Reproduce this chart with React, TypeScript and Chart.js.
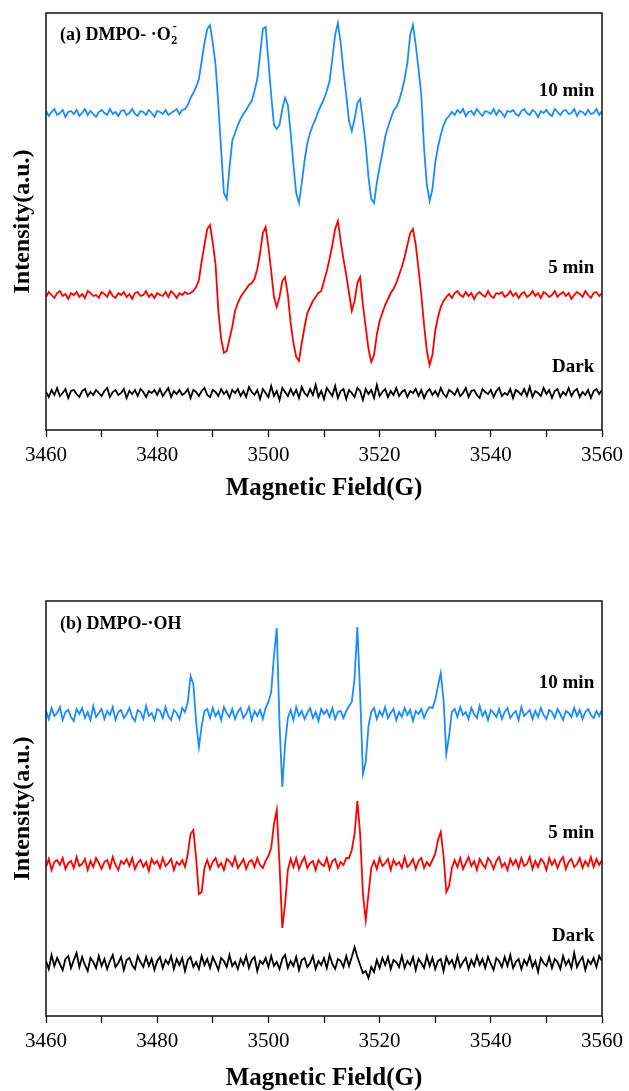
import React, { useEffect, useRef } from 'react';
import { Chart, registerables } from 'chart.js';

Chart.register(...registerables);

// ---- data -------------------------------------------------------------
const FIELD_MIN = 3460;
const FIELD_MAX = 3560;
const FIELD_STEP = 0.5; // spectra sampled every 0.5 G (201 points)
const xTickLabels = ['3460', '3480', '3500', '3520', '3540', '3560'];

// (a) DMPO-·O2-  (intensities relative to each trace's own baseline, a.u.)
const o2Min10 = [
  2, -3, 1, 4, -2, 0, 3, -4, 1, 2, -1, 3, -3, 0, 4, -2, 2, -1, -4, 1,
  3, 0, -2, 4, -1, 1, -3, 2, 3, -2, 0, 4, -1, -3, 2, 1, -2, 3, 0, -4,
  2, 1, -1, 3, -2, 0, 2, 4, -1, 3,
  4, 8, 15, 20, 26, 34, 52, 70, 84, 88,
  70, 48, 8, -37, -80, -86, -55, -28, -20, -12,
  -6, -1, 3, 8, 12, 22, 34, 58, 84, 86,
  52, 18, -12, -16, -12, 4, 15, 8, -20, -52,
  -80, -90, -70, -48, -30, -20, -12, -6, 2, 8,
  14, 22, 32, 54, 78, 90, 70, 42, 18, -8,
  -18, -6, 10, 14, -8, -32, -64, -86, -90, -70,
  -54, -40, -24, -14, -6, 2, 6, 12, 22, 34,
  50, 78, 88, 68, 44, 18, -36, -72, -88, -76,
  -50, -34, -22, -12, -6, -3, 1,
  -2, 3, 0, 4, -3, 1, 2, -2, 4, 0, -3, 2, 1, -1, 4, -2, 3, 0, -4, 2,
  1, 3, -1, -3, 2, 4, 0, -2, 3, 1, -4, 2, 0, 3, -1, -3, 4, 1, -2, 2,
  3, -1, 0, 4, -3, 2, 1, -2, 3, -1, 0, 4, -2, 2,
];
const o2Min5 = [
  -2, 3, 0, -3, 2, 4, -1, 1, -4, 2, 0, 3, -2, 1, -3, 4, 2, -1, 0, -3,
  3, 1, -2, 4, -1, -3, 2, 0, 3, -2, 1, -4, 2, 3, -1, 0, 4, -2, 1, -3,
  2, 0, -1, 3, -2, 4, 1, -3, 2, 0, 3, 1,
  2, 4, 8, 15, 34, 50, 66, 70,
  52, 30, -16, -44, -58, -56, -44, -32, -16, -8,
  -2, 2, 6, 10, 12, 16, 26, 42, 62, 68,
  48, 24, -2, -12, -2, 14, 18, 0, -28, -48,
  -62, -66, -48, -32, -18, -12, -6, -2, 2, 4,
  14, 24, 36, 50, 66, 74, 54, 36, 20, 2,
  -16, -6, 12, 18, -10, -32, -54, -67, -60, -40,
  -26, -18, -10, -4, 2, 6, 12, 20, 28, 38,
  50, 62, 66, 50, 26, 0, -30, -56, -70, -60,
  -36, -22, -12, -6, -2,
  1, -3, 2, 4, 0, -2, 3, -1, 2, -4, 1, 3, 0, -2, 4, -1, -3, 2, 1, 3,
  -2, 0, 4, -1, 2, -3, 1, 3, -2, 0, 4, -1, 2, -3, 3, 1, -2, 0, 4, -2,
  1, 3, -1, 2, -4, 0, 3, 1, -2, 4, 0, -3, 2, 3, -1, 2,
];
const o2Dark = [
  1, -4, 3, -2, 5, -3, 0, 4, -5, 2, 3, -1, -4, 2, 4, -3, 1, -2, 3, 0,
  -3, 2, 5, -4, 1, 3, -2, 0, 4, -5, 2, -1, 3, -3, 4, 1, -4, 2, 0, 3,
  -2, 4, -3, 1, 5, -4, 2, -1, 3, -2, 0, 4, -5, 3, 1, -3, 2, 5, -2, -4,
  3, 1, -3, 4, -1, 2, -5, 3, 0, 4, -3, 2, -4, 6, 1, -2, 3, -6, 4, 0,
  -4, 7, -3, 2, -7, 5, 1, -3, 4, -2, 3, -5, 6, 0, -3, 4, -2, 8, -4, 2,
  -6, 5, 1, -3, 7, -5, 2, 4, -6, 3, 0, -4, 5, 2, -7, 4, -1, 3, -5, 8,
  -3, 1, 4, -4, 2, -2, 5, -3, 1, 3, -4, 2, 0, 4, -3, 3, -5, 1, 4, -2,
  2, -3, 5, -1, -4, 3, 1, -2, 4, -3, 0, 5, -4, 2, 3, -2, -5, 4, 1, -1,
  3, -4, 2, 5, -3, 0, -2, 4, -5, 3, 1, -2, 4, -3, 6, -4, 2, 0, -3, 5,
  -1, 3, -5, 2, 4, -4, 1, -2, 5, -3, 2, 4, -4, 1, -2, 3, -5, 2, 4, -1,
  3,
];

// (b) DMPO-·OH
const ohMin10 = [
  3, -5, 6, -2, 1, 7, -6, 2, 4, -3, -7, 5, 0, 6, -4, 2, -6, 8, -3, 1,
  5, -5, 3, -1, 7, -6, 2, 4, -4, 0, 6, -3, -7, 4, 2, -5, 8, -2, 1, -6,
  5, 3, -4, 7, -2, -6, 4, 1, -5, 6, 2,
  12, 38, 30, -8, -33, -12, 3,
  5, -4, 6, -2, 3, -6, 7, 1, -3, 5, -5, 2, 6, -4, 0, 7, -6, 3, -2, 4, -5,
  6, 12, 22, 58, 86, -10, -73, -30, -4,
  4, -6, 7, -2, 3, -5, 1, 6, -4, 2, -7, 5, 0, 4, -3, 6, -5, 2, 3, -4,
  3, 8, 12, 36, 87, 20, -60, -48, -12, 2,
  6, -5, 3, -2, 7, -4, 1, 5, -6, 2, -3, 6, -1, 4, -7, 3, 0, 5, -4,
  3, 7, 6, 14, 28, 41, 14, -40, -22, 2,
  5, -3, 7, -1, 2, -5, 6, 0, -4, 8, -2, 3, -6, 4, 1, -3, 5, -5, 2, 6,
  -4, 0, 3, -6, 7, -2, 1, 4, -5, 3, -3, 6, -1, -5, 4, 2, -4, 5, 0, -6,
  3, 1, -3, 6, -2, 4, -5, 2, 5, -1, -4, 3, -2, 4,
];
const ohMin5 = [
  -3, 5, -6, 2, 4, -1, 6, -5, 1, 3, -4, 7, -2, 0, 5, -6, 3, -3, 6, 1,
  -5, 2, 4, -4, 7, -1, -6, 3, 0, 5, -2, 6, -5, 1, 4, -3, 2, -7, 5, 0,
  3, -4, 6, -2, 1, 5, -6, 2, -1, 4, -3,
  10, 30, 34, 6, -30, -28, -4,
  4, -5, 2, 6, -3, 1, -6, 5, 3, -2, 7, -4, 0, 5, -5, 2, 4, -3, 6, -1, -4, 3,
  8, 16, 40, 54, 0, -64, -40, -6,
  5, -3, 6, -5, 2, 7, -4, 1, 3, -6, 4, 0, -2, 6, -5, 3, 5, -4, 2, -1, 6,
  6, 14, 30, 63, 30, -30, -56, -30, -4,
  3, -5, 6, -2, 1, 5, -6, 4, -1, 2, -4, 7, -3, 0, 5, -5, 3, 6, -4, 2, -2, 4,
  10, 24, 32, 8, -28, -22, -4,
  4, -3, 6, -5, 1, 7, -2, 3, -6, 5, 0, -4, 6, 2, -5, 3, 7, -3, 1, -6,
  5, -1, 4, -4, 6, -2, 0, 7, -5, 3, -3, 5, 2, -6, 6, -1, 4, -4, 3, 7,
  -5, 2, 5, -3, 0, 6, -4, 3, -2, 7, -3, 5, -1, 4,
];
const ohDark = [
  2, -6, 8, -3, 5, -1, -7, 4, 7, -5, 3, 10, -4, 6, -2, -8, 5, 1, -5, 7,
  -3, 4, -6, 2, 8, -4, 0, 6, -7, 3, 5, -2, -6, 7, 1, -4, 6, -3, 4, -7,
  2, 6, -5, 3, -1, 7, -6, 4, -2, 5, -8, 3, 6, -4, 1, -6, 7, -2, 4, -5,
  6, 0, -7, 5, 2, -4, 8, -3, 1, -6, 4, -2, 7, -5, 3, 6, -8, 2, -1, 5,
  -4, 7, -3, 1, -6, 4, 8, -5, 2, -3, 6, -7, 3, 5, -4, 0, 7, -6, 2, -2,
  5, -5, 8, -1, -6, 4, 2, -4, 7, -3, 6, 16, 6, -2, -10, -8, -15, -4, -9, 3,
  -5, 5, -2, 6, -6, 3, 1, -4, 7, -5, 2, -2, 6, -7, 4, 0, -5, 7, -3, 5,
  -6, 2, 4, -8, 6, -1, 3, -5, 7, -4, 1, 5, -6, 3, -3, 7, -2, 4, -5, 6,
  -1, -7, 5, 2, -4, 6, -3, 8, -5, 1, 4, -6, 3, -2, 7, -4, 2, -9, 5, 0,
  -3, 6, -5, 4, 1, -6, 7, -2, 3, -5, 10, -4, 2, 6, -7, 3, -1, 5, -4, 7,
  2,
];

const seriesNames = ['10 min', '5 min', 'Dark'];

// ---- styling / layout --------------------------------------------------
const FONT = '"Liberation Serif", "Times New Roman", serif';
const COLORS = ['#1a8cff', '#ff0000', '#000000'];

type Panel = {
  tag: string;
  series: number[][];
  offsets: number[];
  labelY: number[];
  titleY: number;
  yMax: number;
  padTop: number;
  xAxisHeight: number;
  xTitlePad: number;
  height: number;
  top: number;
};

const panels: Panel[] = [
  {
    tag: 'a',
    series: [o2Min10, o2Min5, o2Dark],
    offsets: [317, 135, 37],
    labelY: [339, 162, 63],
    titleY: 395,
    yMax: 417,
    padTop: 13,
    xAxisHeight: 115,
    xTitlePad: 44,
    height: 545,
    top: 0,
  },
  {
    tag: 'b',
    series: [ohMin10, ohMin5, ohDark],
    offsets: [302, 152, 53],
    labelY: [333, 183, 80],
    titleY: 392,
    yMax: 415,
    padTop: 56,
    xAxisHeight: 75,
    xTitlePad: 0,
    height: 546,
    top: 545,
  },
];

const framePlugin = {
  id: 'frame',
  afterDatasetsDraw(chart: any) {
    const { ctx, chartArea: a } = chart;
    ctx.save();
    ctx.strokeStyle = '#111';
    ctx.lineWidth = 1.5;
    ctx.strokeRect(a.left, a.top, a.right - a.left, a.bottom - a.top);
    ctx.restore();
  },
};

function makeTextPlugin(panel: Panel) {
  return {
    id: 'texts' + panel.tag,
    afterDatasetsDraw(chart: any) {
      const { ctx } = chart;
      const xs = chart.scales.x;
      const ys = chart.scales.y;
      ctx.save();
      ctx.fillStyle = '#000';
      ctx.textBaseline = 'middle';
      // trace labels
      ctx.font = `bold 19px ${FONT}`;
      ctx.textAlign = 'right';
      seriesNames.forEach((n, i) => {
        ctx.fillText(n, xs.getPixelForValue(3558.6), ys.getPixelForValue(panel.labelY[i]));
      });
      // panel title
      ctx.textAlign = 'left';
      const tx = xs.getPixelForValue(3462.5);
      const ty = ys.getPixelForValue(panel.titleY);
      ctx.font = `bold 18px ${FONT}`;
      if (panel.tag === 'a') {
        const main = '(a) DMPO- \u00b7O';
        ctx.fillText(main, tx, ty);
        const w = ctx.measureText(main).width;
        ctx.font = `bold 12px ${FONT}`;
        ctx.fillText('2', tx + w + 0.5, ty + 6);
        ctx.fillText('-', tx + w + 2, ty - 8);
      } else {
        ctx.fillText('(b) DMPO-\u00b7OH', tx, ty);
      }
      ctx.restore();
    },
  };
}

function PanelChart({ panel }: { panel: Panel }) {
  const ref = useRef<HTMLCanvasElement | null>(null);
  useEffect(() => {
    if (!ref.current) return;
    const datasets = panel.series.map((vals, si) => ({
      label: seriesNames[si],
      data: vals.map((v, i) => ({ x: FIELD_MIN + i * FIELD_STEP, y: v + panel.offsets[si] })),
      borderColor: COLORS[si],
      borderWidth: 1.8,
      pointRadius: 0,
      tension: 0,
      fill: false,
    }));
    const chart = new Chart(ref.current, {
      type: 'line',
      data: { datasets },
      options: {
        animation: false,
        responsive: false,
        maintainAspectRatio: false,
        layout: { padding: { top: panel.padTop, right: 24, left: 0, bottom: 0 } },
        plugins: { legend: { display: false }, tooltip: { enabled: false } },
        scales: {
          x: {
            type: 'linear',
            min: FIELD_MIN,
            max: FIELD_MAX,
            afterFit: (s: any) => {
              s.height = panel.xAxisHeight;
            },
            ticks: {
              stepSize: 10,
              autoSkip: false,
              maxRotation: 0,
              padding: 6,
              color: '#000',
              font: { family: FONT, size: 21 },
              callback: (v: any) => (xTickLabels.includes(String(v)) ? String(v) : ''),
            },
            grid: {
              display: true,
              drawOnChartArea: false,
              drawTicks: true,
              tickLength: 7,
              tickColor: '#111',
              tickWidth: 1.3,
            },
            border: { display: false },
            title: {
              display: true,
              text: 'Magnetic Field(G)',
              color: '#000',
              font: { family: FONT, size: 25, weight: 'bold', lineHeight: 1 },
              padding: { top: 0, bottom: panel.xTitlePad },
            },
          },
          y: {
            min: 0,
            max: panel.yMax,
            afterFit: (s: any) => {
              s.width = 46;
            },
            ticks: { display: false },
            grid: { display: false },
            border: { display: false },
            title: {
              display: true,
              text: 'Intensity(a.u.)',
              color: '#000',
              font: { family: FONT, size: 24, weight: 'bold', lineHeight: 1 },
              padding: { top: 11, bottom: 0 },
            },
          },
        },
      },
      plugins: [framePlugin, makeTextPlugin(panel)],
    });
    return () => chart.destroy();
  }, [panel]);
  return (
    <canvas
      ref={ref}
      width={629}
      height={panel.height}
      style={{ position: 'absolute', left: 0, top: panel.top, width: 629, height: panel.height }}
    />
  );
}

export default function App() {
  return (
    <div style={{ position: 'fixed', left: 0, top: 0, width: 629, height: 1091, background: '#fff', overflow: 'hidden' }}>
      {panels.map((p) => (
        <PanelChart key={p.tag} panel={p} />
      ))}
    </div>
  );
}
